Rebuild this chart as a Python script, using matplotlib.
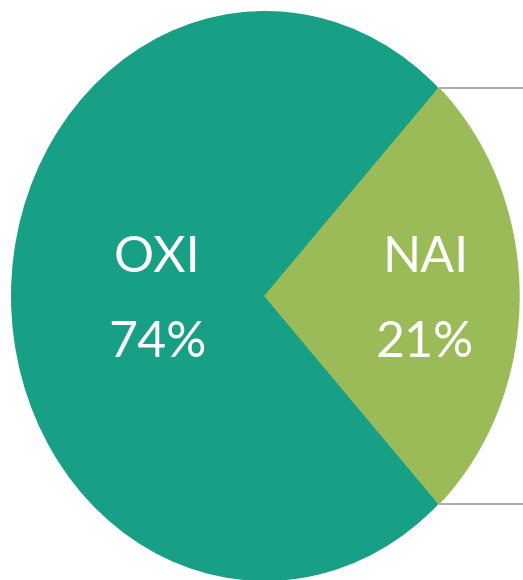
import numpy as np
import matplotlib
matplotlib.use("Agg")
import matplotlib.pyplot as plt

categories = ["OXI", "NAI", "Other"]
values = [74, 21, 5]
colors = ["#17A085", "#9BBB59", "#9BBB59"]
shown = ["OXI", "NAI"]

W, H = 523, 580
fig = plt.figure(figsize=(W / 100, H / 100), dpi=100)
ax = fig.add_axes([0, 0, 1, 1])

start = 46.8
wedges, _ = ax.pie(values, colors=colors, startangle=start, counterclock=True,
                   wedgeprops=dict(linewidth=0), radius=1.0)
# hide the seam between same-coloured wedges
for w, c in zip(wedges[1:], colors[1:]):
    w.set_edgecolor(c)
    w.set_linewidth(1.0)
ax.set_aspect("auto")
cx, cy, rx, ry = 265, 296, 254, 285
ax.set_xlim(-cx / rx, (W - cx) / rx)
ax.set_ylim(-(H - cy) / ry, cy / ry)
ax.axis("off")

# connector lines from the split-out group edges
total = sum(values)
theta_top = np.deg2rad(start)
theta_bot = np.deg2rad(start + 360 * values[0] / total)
xr = (W - cx) / rx
for th in (theta_top, theta_bot):
    ax.plot([np.cos(th), xr], [np.sin(th), np.sin(th)], color="#A6A6A6",
            linewidth=1.3, solid_capstyle="butt", zorder=0)

# labels
font = "Lato"
lab_pos = {"OXI": (-0.425, 0.0), "NAI": (0.63, 0.0)}
for name in shown:
    i = categories.index(name)
    x, y = lab_pos[name]
    ax.text(x, y + 0.135, name, ha="center", va="center", color="white",
            fontsize=36, family=font)
    ax.text(x, y - 0.165, f"{values[i]}%", ha="center", va="center", color="white",
            fontsize=36, family=font)

fig.savefig("out.png", dpi=100)
